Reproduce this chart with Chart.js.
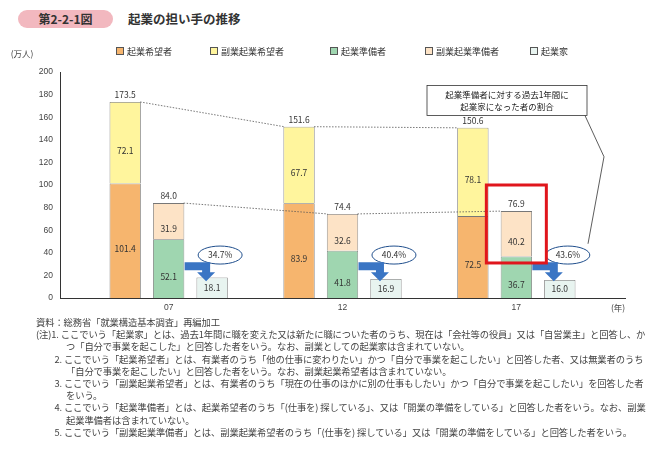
<!DOCTYPE html>
<html><head><meta charset="utf-8">
<script src="https://cdn.jsdelivr.net/npm/chart.js@4"></script>
<style>
body{margin:0;width:663px;height:450px;background:#fff;font-family:"Noto Sans CJK JP",sans-serif;color:#333;position:relative;overflow:hidden}
#hd{position:absolute;left:18px;top:10px;width:95px;height:18px;background:#f2b8bf;border-radius:9px;font-size:12px;font-weight:bold;text-align:center;line-height:18px}
#tt{position:absolute;left:128px;top:10px;font-size:12.5px;font-weight:bold;line-height:18px}
#wrap{position:absolute;left:0;top:40px;width:663px;height:280px}
#lg{position:absolute;top:45px;left:0;font-size:9px}
#lg span{position:absolute;white-space:nowrap}
#lg i{display:inline-block;width:6px;height:6px;border:1px solid #555;margin-right:3px;vertical-align:0}
#nt{position:absolute;left:36px;top:316px;width:616px;font-size:9.3px;line-height:12.2px;color:#444;letter-spacing:-0.1px}
#nt p{margin:0;padding-left:30px;text-indent:-30px}
</style></head><body>
<div id="hd">第2-2-1図</div><div id="tt">起業の担い手の推移</div>
<div id="wrap"><canvas id="c"></canvas></div>
<div id="lg"></div>
<div id="nt">
<p style="padding-left:0;text-indent:0">資料：総務省「就業構造基本調査」再編加工</p>
<p>(注)1. ここでいう「起業家」とは、過去1年間に職を変えた又は新たに職についた者のうち、現在は「会社等の役員」又は「自営業主」と回答し、かつ「自分で事業を起こした」と回答した者をいう。なお、副業としての起業家は含まれていない。</p>
<p>　　2. ここでいう「起業希望者」とは、有業者のうち「他の仕事に変わりたい」かつ「自分で事業を起こしたい」と回答した者、又は無業者のうち「自分で事業を起こしたい」と回答した者をいう。なお、副業起業希望者は含まれていない。</p>
<p>　　3. ここでいう「副業起業希望者」とは、有業者のうち「現在の仕事のほかに別の仕事もしたい」かつ「自分で事業を起こしたい」を回答した者をいう。</p>
<p>　　4. ここでいう「起業準備者」とは、起業希望者のうち「(仕事を) 探している」、又は「開業の準備をしている」と回答した者をいう。なお、副業起業準備者は含まれていない。</p>
<p>　　5. ここでいう「副業起業準備者」とは、副業起業希望者のうち「(仕事を) 探している」又は「開業の準備をしている」と回答した者をいう。</p>
</div>
<script>
var years = ['07', '12', '17'];
var seriesNames = ['起業希望者', '副業起業希望者', '起業準備者', '副業起業準備者', '起業家'];
var kibou = [101.4, 83.9, 72.5];
var fukugyouKibou = [72.1, 67.7, 78.1];
var junbi = [52.1, 41.8, 36.7];
var fukugyouJunbi = [31.9, 32.6, 40.2];
var kigyouka = [18.1, 16.9, 16.0];
var rates = ['34.7%', '40.4%', '43.6%'];
var yTicks = [0, 20, 40, 60, 80, 100, 120, 140, 160, 180, 200];
var colors = ['#f6b56e', '#fff59d', '#9fd6b0', '#fde3c6', '#e8f4f0'];

// 13 slots: each year uses 3 slots (希望 / 準備 / 起業家)
var labels = [];
for (var i = 0; i < 13; i++) labels.push('');
function slot(year, pos) { return 1 + year * 4 + pos; }
function put(arr, pos) {
  var d = labels.map(function () { return null; });
  arr.forEach(function (v, k) { d[slot(k, pos)] = v; });
  return d;
}
var sources = [[kibou, 0], [fukugyouKibou, 0], [junbi, 1], [fukugyouJunbi, 1], [kigyouka, 2]];
var datasets = sources.map(function (s, i) {
  return { label: seriesNames[i], data: put(s[0], s[1]), backgroundColor: colors[i], borderColor: '#777', borderWidth: 0.8, barPercentage: 0.72, categoryPercentage: 1, stack: 's' };
});

// legend
var lg = document.getElementById('lg');
var lx = [116, 210, 330, 425, 530];
seriesNames.forEach(function (n, i) {
  lg.innerHTML += '<span style="left:' + lx[i] + 'px"><i style="background:' + colors[i] + '"></i>' + n + '</span>';
});

var extras = {
  id: 'extras',
  afterDatasetsDraw: function (ch) {
    var c = ch.ctx, x = ch.scales.x, y = ch.scales.y;
    c.save();
    c.font = '8.5px "Noto Sans CJK JP"'; c.fillStyle = '#333'; c.textAlign = 'center'; c.textBaseline = 'middle';
    // segment labels
    ch.data.datasets.forEach(function (ds, di) {
      ch.getDatasetMeta(di).data.forEach(function (b, j) {
        var v = ds.data[j]; if (v == null) return;
        var yy = di === 4 ? (b.y + b.base) / 2 : (b.y + b.base) / 2 + 8;
        c.fillText(v.toFixed(1), b.x, yy);
      });
    });
    // totals + dotted lines
    var tops = [[], []];
    years.forEach(function (yr, k) {
      var a = kibou[k] + fukugyouKibou[k], b = junbi[k] + fukugyouJunbi[k];
      [[a, 0], [b, 1]].forEach(function (p) {
        var xx = x.getPixelForValue(slot(k, p[1])), yy = y.getPixelForValue(p[0]);
        c.fillText(p[0].toFixed(1), xx, yy - 7);
        tops[p[1]].push([xx + 15, yy, xx - 15]);
      });
    });
    c.setLineDash([1.5, 1.5]); c.strokeStyle = '#555'; c.lineWidth = 0.8;
    tops.forEach(function (t) {
      for (var k = 0; k < 2; k++) { c.beginPath(); c.moveTo(t[k][0], t[k][1]); c.lineTo(t[k + 1][2], t[k + 1][1]); c.stroke(); }
    });
    c.setLineDash([]);
    // rate ellipses + arrows
    years.forEach(function (yr, k) {
      var xb = x.getPixelForValue(slot(k, 1)), xc = x.getPixelForValue(slot(k, 2));
      var ex = xc + 8, ey = y.getPixelForValue(38);
      c.strokeStyle = '#1f4e8c'; c.lineWidth = 1; c.fillStyle = '#fff';
      c.beginPath(); c.ellipse(ex, ey, 22, 9, 0, 0, Math.PI * 2); c.fill(); c.stroke();
      c.fillStyle = '#333'; c.font = '8.5px "Noto Sans CJK JP"'; c.fillText(rates[k], ex, ey);
      // blue arrow
      var ay = y.getPixelForValue(28);
      c.fillStyle = '#3a75c4';
      c.beginPath();
      c.moveTo(xb + 16, ay - 4); c.lineTo(xc - 2, ay - 4); c.lineTo(xc - 2, ay + 6);
      c.lineTo(xc + 3, ay + 6); c.lineTo(xc - 6, ay + 15); c.lineTo(xc - 15, ay + 6);
      c.lineTo(xc - 10, ay + 6); c.lineTo(xc - 10, ay + 4); c.lineTo(xb + 16, ay + 4);
      c.closePath(); c.fill();
    });
    // red highlight box
    var rb = x.getPixelForValue(slot(2, 1));
    c.strokeStyle = '#e0161c'; c.lineWidth = 3;
    c.strokeRect(rb - 30, y.getPixelForValue(100), 60, y.getPixelForValue(31) - y.getPixelForValue(100));
    // annotation box
    c.strokeStyle = '#333'; c.lineWidth = 0.8; c.fillStyle = '#fff';
    c.fillRect(427, y.getPixelForValue(188), 160, 30); c.strokeRect(427, y.getPixelForValue(188), 160, 30);
    c.fillStyle = '#222'; c.font = '8.5px "Noto Sans CJK JP"';
    c.fillText('起業準備者に対する過去1年間に', 507, y.getPixelForValue(188) + 9);
    c.fillText('起業家になった者の割合', 507, y.getPixelForValue(188) + 21);
    c.beginPath(); c.moveTo(585, y.getPixelForValue(188) + 30); c.lineTo(604, y.getPixelForValue(125));
    c.lineTo(588, y.getPixelForValue(48)); c.stroke();
    // axis titles
    c.font = '8.5px "Noto Sans CJK JP"'; c.fillStyle = '#444';
    c.fillText('(万人)', 22, y.getPixelForValue(200) - 18);
    c.fillText('(年)', 618, y.bottom + 10);
    c.restore();
  }
};

new Chart(document.getElementById('c'), {
  type: 'bar',
  data: { labels: labels, datasets: datasets },
  plugins: [extras],
  options: {
    responsive: true, maintainAspectRatio: false, animation: false,
    layout: { padding: { top: 32, right: 38, left: 5, bottom: 0 } },
    plugins: { legend: { display: false }, tooltip: { enabled: false } },
    scales: {
      x: {
        stacked: true,
        grid: { display: false, drawTicks: true, tickLength: 3 },
        border: { color: '#333' },
        afterFit: function (s) { s.height = 22; },
        ticks: {
          autoSkip: false, maxRotation: 0, color: '#444', font: { size: 8.5 }, padding: 2,
          callback: function (v, i) { var k = (i - 2) / 4; return Number.isInteger(k) && years[k] ? years[k] : ''; }
        }
      },
      y: {
        stacked: true, min: 0, max: 200,
        afterFit: function (s) { s.width = 55; },
        afterBuildTicks: function (s) { s.ticks = yTicks.map(function (v) { return { value: v }; }); },
        grid: { display: false, drawTicks: true, tickLength: 4 },
        border: { color: '#333' },
        ticks: { color: '#444', font: { size: 8.5 } }
      }
    }
  }
});
</script>
</body></html>
